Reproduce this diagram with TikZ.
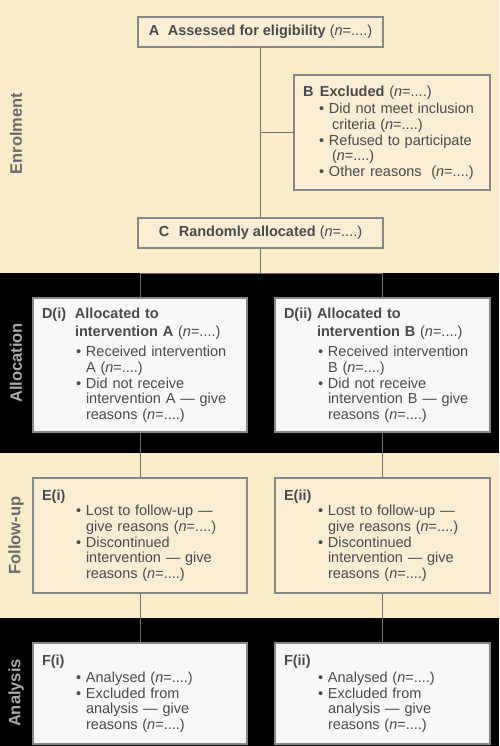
\documentclass[tikz,border=0pt]{standalone}
\usepackage{fontspec}
\setmainfont{Liberation Sans}
\usetikzlibrary{calc}

\definecolor{cream}{HTML}{FAEBC9}
\definecolor{boxcream}{HTML}{F9EDD3}
\definecolor{boxwhite}{HTML}{F8F8F6}
\definecolor{edge}{HTML}{878787}
\definecolor{ink}{HTML}{4A4A4A}
\definecolor{wire}{HTML}{707070}
\definecolor{labdark}{HTML}{6A6A6A}
\definecolor{lablight}{HTML}{ABABAB}

\newcommand{\nval}{(\textit{n}=....)}
% label + bold title, title lines hang under the title
\newcommand{\stephead}[3]{{\fontsize{14.5}{18}\selectfont\noindent\hangindent=#1\hangafter=1
  \makebox[#1][l]{\bfseries #2}#3\par}}
% bullet item, all lines indented
\newcommand{\bul}[2]{\par\noindent\hangindent=#1\hangafter=0\llap{\textbullet\ }#2\par}

\begin{document}
\begin{tikzpicture}[x=1pt, y=-1pt,
    every node/.style={font=\fontsize{14.5}{15.6}\selectfont, text=ink},
    panel/.style={draw=edge, line width=1.2pt, inner xsep=9pt, inner ysep=4pt},
    cbox/.style={panel, fill=boxcream},
    wbox/.style={panel, fill=boxwhite},
    stage/.style={rotate=90, font=\fontsize{16.5}{18}\selectfont\bfseries},
    wire/.style={draw=wire, line width=1pt}]

  % Bands
  \fill[cream] (0,0) rectangle (499,273);
  \fill[black] (0,273) rectangle (499,453);
  \fill[cream] (0,453) rectangle (499,618);
  \fill[black] (0,618) rectangle (499,746);
  \useasboundingbox (0,0) rectangle (499,746);

  % Stage labels
  \node[stage, text=labdark] (enrol) at (16,133.5) {Enrolment};
  \node[stage, text=lablight] (alloc) at (16,363) {Allocation};
  \node[stage, text=labdark] (follow) at (16,535.5) {Follow-up};
  \node[stage, text=lablight] (analys) at (16,693) {Analysis};

  % Nodes
  \node[cbox, minimum width=245pt, minimum height=30pt] (A) at (260.5,32)
    {\textbf{\makebox[19pt][l]{A}Assessed for eligibility} \nval};
  \node[cbox, minimum width=196pt, minimum height=115pt, text width=178pt] (B) at (392,132.5) {
    \stephead{17pt}{B}{\textbf{Excluded} \nval}
    \vspace{2pt}
    \bul{26pt}{Did not meet inclusion\newline\hspace*{3pt}criteria \nval}
    \bul{26pt}{Refused to participate\newline\hspace*{3pt}\nval}
    \bul{26pt}{Other reasons\ \ \nval}};
  \node[cbox, minimum width=245pt, minimum height=30pt] (C) at (260.5,233)
    {\textbf{\makebox[20pt][l]{C}Randomly allocated} \nval};

  \node[wbox, minimum width=214pt, minimum height=134pt, text width=196pt] (D1) at (140,365) {
    \stephead{33pt}{D(i)}{\textbf{Allocated to\newline intervention A} \nval}
    \vspace{5pt}
    \bul{44pt}{Received intervention\newline A \nval}
    \bul{44pt}{Did not receive\newline intervention A — give\newline reasons \nval}};
  \node[wbox, minimum width=215pt, minimum height=134pt, text width=197pt] (D2) at (382.5,365) {
    \stephead{33pt}{D(ii)}{\textbf{Allocated to\newline intervention B} \nval}
    \vspace{5pt}
    \bul{44pt}{Received intervention\newline B \nval}
    \bul{44pt}{Did not receive\newline intervention B — give\newline reasons \nval}};

  \node[cbox, minimum width=214pt, minimum height=115pt, text width=196pt] (E1) at (140,535.5) {
    \stephead{33pt}{E(i)}{}
    \bul{44pt}{Lost to follow-up —\newline give reasons \nval}
    \bul{44pt}{Discontinued\newline intervention — give\newline reasons \nval}};
  \node[cbox, minimum width=215pt, minimum height=115pt, text width=197pt] (E2) at (382.5,535.5) {
    \stephead{33pt}{E(ii)}{}
    \bul{44pt}{Lost to follow-up —\newline give reasons \nval}
    \bul{44pt}{Discontinued\newline intervention — give\newline reasons \nval}};

  \node[wbox, minimum width=214pt, minimum height=101pt, text width=196pt] (F1) at (140,693.5) {
    \stephead{33pt}{F(i)}{}
    \vspace{2pt}
    \bul{44pt}{Analysed \nval}
    \bul{44pt}{Excluded from\newline analysis — give\newline reasons \nval}};
  \node[wbox, minimum width=215pt, minimum height=101pt, text width=197pt] (F2) at (382.5,693.5) {
    \stephead{33pt}{F(ii)}{}
    \vspace{2pt}
    \bul{44pt}{Analysed \nval}
    \bul{44pt}{Excluded from\newline analysis — give\newline reasons \nval}};

  % Lines
  \coordinate (split) at (260.5,273);
  \draw[wire] (A) -- (C);
  \draw[wire] (A.south |- B.west) -- (B);
  \draw[wire] (C) -- (split);
  \draw[wire] (split) -| (D1);
  \draw[wire] (split) -| (D2);
  \foreach \s in {1,2} {
    \draw[wire] (D\s) -- (E\s);
    \draw[wire] (E\s) -- (F\s);
  }
\end{tikzpicture}
\end{document}
